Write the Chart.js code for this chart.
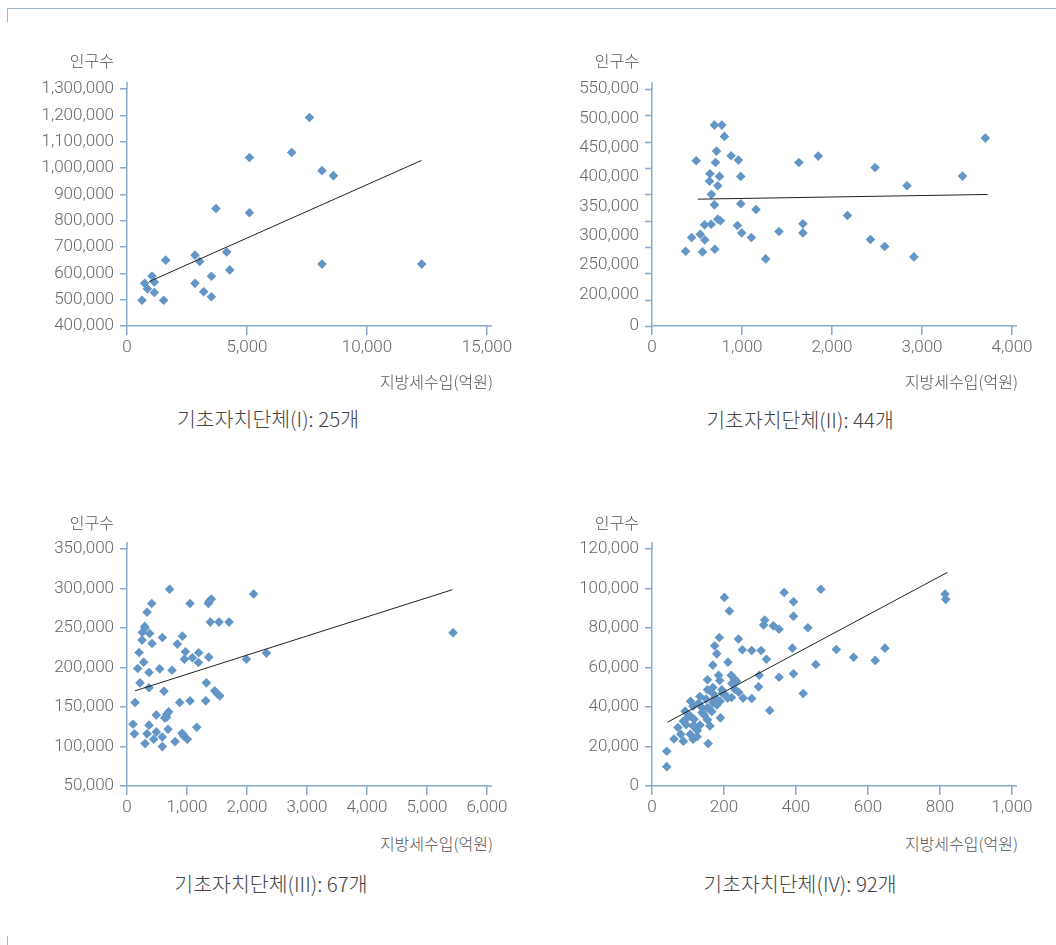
<!DOCTYPE html>
<html>
<head>
<meta charset="utf-8">
<script src="https://cdn.jsdelivr.net/npm/chart.js@4.4.1/dist/chart.umd.min.js"></script>
<style>
  body { margin: 0; background: #fff; width: 1056px; height: 945px; position: relative; overflow: hidden;
         font-family: 'Noto Sans CJK KR', 'Noto Sans', sans-serif; }
  .frame { position: absolute; background: #9db5d2; }
  canvas { position: absolute; }
  .t { position: absolute; color: #555; white-space: nowrap; font-weight: 300; }
  .ylab { font-size: 16px; line-height: 20px; height: 20px; text-align: right; width: 80px; }
  .xlab { font-size: 16px; line-height: 20px; height: 20px; text-align: right; width: 200px; }
  .cap { font-size: 20.5px; line-height: 26px; height: 26px; text-align: center; width: 320px; color: #444; }
</style>
</head>
<body>
<div class="frame" style="left:7px;top:8px;width:1049px;height:1px;"></div>
<div class="frame" style="left:7px;top:8px;width:1px;height:14px;"></div>
<div class="frame" style="left:7px;top:936px;width:1px;height:9px;"></div>

<canvas id="c1" width="520" height="330" style="left:0px;top:40px;"></canvas>
<canvas id="c2" width="520" height="330" style="left:525px;top:40px;"></canvas>
<canvas id="c3" width="520" height="330" style="left:0px;top:500px;"></canvas>
<canvas id="c4" width="520" height="330" style="left:525px;top:500px;"></canvas>

<div class="t ylab" style="left:34px;top:50px;">인구수</div>
<div class="t ylab" style="left:559px;top:50px;">인구수</div>
<div class="t ylab" style="left:34px;top:512px;">인구수</div>
<div class="t ylab" style="left:559px;top:512px;">인구수</div>

<div class="t xlab" style="left:293px;top:371px;">지방세수입(억원)</div>
<div class="t xlab" style="left:818px;top:371px;">지방세수입(억원)</div>
<div class="t xlab" style="left:293px;top:833px;">지방세수입(억원)</div>
<div class="t xlab" style="left:818px;top:833px;">지방세수입(억원)</div>

<div class="t cap" style="left:108px;top:405px;">기초자치단체(I): 25개</div>
<div class="t cap" style="left:640px;top:406px;">기초자치단체(II): 44개</div>
<div class="t cap" style="left:111px;top:870px;">기초자치단체(III): 67개</div>
<div class="t cap" style="left:640px;top:870px;">기초자치단체(IV): 92개</div>

<script>
// 기초자치단체(I): 지방세수입(억원) vs 인구수
var tax1 = [625, 737, 850, 1042, 1140, 1140, 1529, 1612, 2833, 3029, 2833, 3196, 3517, 3517, 3708, 4154, 4279, 5100, 5100, 6863, 7600, 8125, 8600, 8125, 12279];
var pop1 = [498000, 562000, 541000, 590000, 567000, 527000, 498000, 650000, 669000, 645000, 562000, 530000, 589000, 511000, 846000, 681000, 613000, 1040000, 830000, 1059000, 1192000, 990000, 971000, 635000, 635000];
var trendX1 = [917, 12265];
var trendY1 = [568500, 1028500];
var xVals1 = [0, 5000, 10000, 15000];
var xTicks1 = ['0', '5,000', '10,000', '15,000'];
var yVals1 = [400000, 500000, 600000, 700000, 800000, 900000, 1000000, 1100000, 1200000, 1300000];
var yTicks1 = ['400,000', '500,000', '600,000', '700,000', '800,000', '900,000', '1,000,000', '1,100,000', '1,200,000', '1,300,000'];

// 기초자치단체(II)
var tax2 = [694, 776, 805, 717, 491, 705, 879, 960, 643, 639, 750, 986, 731, 694, 986, 1156, 731, 584, 657, 440, 536, 587, 373, 561, 698, 949, 997, 1104, 1263, 1411, 1632, 1847, 1677, 1677, 2172, 2478, 2427, 2585, 2833, 2910, 3450, 3704, 660, 760];
var pop2 = [488500, 488500, 469200, 444100, 427600, 424800, 436200, 428800, 405500, 392900, 401000, 401000, 385000, 352500, 354300, 344600, 328100, 318400, 319500, 296800, 302500, 292800, 273500, 272300, 276900, 317300, 304700, 296800, 260400, 307100, 424800, 435600, 320200, 304700, 334300, 416200, 293400, 281400, 385000, 263800, 401500, 466300, 370400, 325500];
var trendX2 = [510, 3730];
var trendY2 = [362200, 370200];
var xVals2 = [0, 1000, 2000, 3000, 4000];
var xTicks2 = ['0', '1,000', '2,000', '3,000', '4,000'];
// broken axis: the bottom of the scale is labelled 0
var yVals2 = [146000, 200000, 250000, 300000, 350000, 400000, 450000, 500000, 550000];
var yTicks2 = ['0', '200,000', '250,000', '300,000', '350,000', '400,000', '450,000', '500,000', '550,000'];

// 기초자치단체(III)
var tax3 = [710, 2110, 412, 1051, 1356, 1406, 334, 295, 256, 378, 251, 417, 589, 923, 839, 1389, 1534, 1701, 201, 973, 1195, 278, 956, 1090, 1190, 1362, 1990, 2323, 5434, 178, 367, 545, 751, 217, 367, 617, 1323, 1462, 1501, 1545, 134, 878, 1051, 1312, 489, 695, 662, 628, 101, 367, 123, 334, 489, 684, 1162, 917, 945, 445, 589, 1006, 301, 589, 801, 300, 660, 940, 1370];
var pop3 = [299000, 293000, 281000, 281000, 281000, 286600, 270000, 252000, 244400, 243000, 234700, 230400, 238000, 239700, 229600, 257500, 257500, 257500, 219000, 219900, 218600, 206800, 210600, 212300, 206400, 213100, 210600, 218200, 244000, 198800, 193700, 198300, 196600, 180600, 174300, 170000, 180600, 170500, 167100, 164100, 155700, 155700, 157800, 157800, 140000, 143800, 140900, 136200, 128200, 127000, 116000, 116000, 118500, 121900, 124400, 116800, 113400, 109200, 112100, 109200, 103700, 99900, 106200, 250000, 137000, 115000, 284000];
var trendX3 = [134, 5423];
var trendY3 = [170500, 298500];
var xVals3 = [0, 1000, 2000, 3000, 4000, 5000, 6000];
var xTicks3 = ['0', '1,000', '2,000', '3,000', '4,000', '5,000', '6,000'];
var yVals3 = [50000, 100000, 150000, 200000, 250000, 300000, 350000];
var yTicks3 = ['50,000', '100,000', '150,000', '200,000', '250,000', '300,000', '350,000'];

// 기초자치단체(IV)
var tax4 = [41, 41, 61, 87, 80, 72, 87, 92, 107, 114, 106, 117, 114, 106, 114, 126, 133, 133, 139, 139, 154, 154, 154, 154, 161, 156, 166, 169, 169, 169, 169, 174, 180, 187, 185, 188, 189, 190, 194, 202, 201, 215, 211, 220, 221, 222, 229, 235, 241, 240, 251, 253, 277, 277, 296, 298, 303, 310, 313, 318, 327, 337, 353, 353, 367, 393, 393, 390, 393, 420, 433, 455, 469, 512, 560, 620, 647, 814, 816, 100, 120, 130, 145, 150, 160, 175, 180, 195, 210, 125, 95, 230];
var pop4 = [9800, 17600, 23800, 22700, 26200, 29600, 32800, 37900, 42900, 40400, 35500, 33800, 30400, 26200, 23700, 28100, 30800, 45300, 37200, 39600, 53800, 48700, 39600, 33500, 30400, 21500, 37700, 42300, 47000, 49900, 61200, 71000, 66900, 75200, 56100, 53400, 42900, 34500, 48700, 46500, 95500, 88600, 62700, 56100, 44800, 51900, 54100, 53100, 47500, 74400, 69000, 44500, 68600, 44300, 50200, 56100, 68600, 81500, 84000, 64200, 38200, 81100, 79400, 55100, 98000, 93300, 86000, 69800, 56800, 46800, 80100, 61500, 99600, 69100, 65200, 63600, 69800, 97200, 94500, 35000, 30000, 42000, 36000, 44000, 39000, 45000, 41000, 47000, 44500, 25000, 31000, 49000];
var trendX4 = [43, 821];
var trendY4 = [32300, 108200];
var xVals4 = [0, 200, 400, 600, 800, 1000];
var xTicks4 = ['0', '200', '400', '600', '800', '1,000'];
var yVals4 = [0, 20000, 40000, 60000, 80000, 100000, 120000];
var yTicks4 = ['0', '20,000', '40,000', '60,000', '80,000', '100,000', '120,000'];

var AXIS = '#86a9d0';
var MARK = '#6396c6';
var TICKFONT = { family: "Roboto, 'Noto Sans CJK KR', sans-serif", size: 17, weight: 300 };

// little overhang of the axis lines past the plot box
var axisExt = {
    id: 'axisExt',
    afterDraw: function(chart) {
        var ctx = chart.ctx, a = chart.chartArea;
        ctx.save();
        ctx.strokeStyle = AXIS;
        ctx.lineWidth = 1.5;
        ctx.beginPath();
        ctx.moveTo(a.left, a.top - 7);
        ctx.lineTo(a.left, a.top);
        ctx.moveTo(a.right, a.bottom);
        ctx.lineTo(a.right + 5, a.bottom);
        ctx.stroke();
        ctx.restore();
    }
};

// panel II: tick marks are evenly spaced and do not follow the labels
var evenMarks = {
    id: 'evenMarks',
    afterDraw: function(chart) {
        var ctx = chart.ctx, a = chart.chartArea, n = 9;
        ctx.save();
        ctx.strokeStyle = AXIS;
        ctx.lineWidth = 1.5;
        ctx.beginPath();
        for (var i = 0; i <= n; i++) {
            var y = Math.round(a.top + (a.bottom - a.top) * i / n) + 0.5;
            ctx.moveTo(a.left - 7, y);
            ctx.lineTo(a.left, y);
        }
        ctx.stroke();
        ctx.restore();
    }
};

function pts(xs, ys) {
    return xs.map(function(x, i) { return { x: x, y: ys[i] }; });
}

function makeChart(id, xs, ys, tx, ty, xVals, xLabels, yVals, yLabels, evenTicks) {
    var plugins = [axisExt];
    if (evenTicks) plugins.push(evenMarks);
    new Chart(document.getElementById(id), {
        type: 'scatter',
        data: {
            datasets: [{
                data: pts(xs, ys),
                pointStyle: 'rectRot',
                pointRadius: 4.8,
                pointHoverRadius: 4.8,
                backgroundColor: MARK,
                borderColor: MARK,
                borderWidth: 0,
                order: 2
            }, {
                data: pts(tx, ty),
                showLine: true,
                borderColor: '#222',
                borderWidth: 1,
                pointRadius: 0,
                fill: false,
                order: 1
            }]
        },
        options: {
            responsive: false,
            animation: false,
            devicePixelRatio: 1,
            layout: { padding: { top: 49, right: 33, bottom: 0, left: 0 } },
            plugins: { legend: { display: false }, tooltip: { enabled: false } },
            scales: {
                x: {
                    type: 'linear',
                    min: xVals[0], max: xVals[xVals.length - 1],
                    afterFit: function(s) { s.height = 44; },
                    afterBuildTicks: function(s) {
                        s.ticks = xVals.map(function(v) { return { value: v }; });
                    },
                    ticks: {
                        padding: 3,
                        color: '#666',
                        font: TICKFONT,
                        maxRotation: 0,
                        autoSkip: false,
                        callback: function(v, i) { return xLabels[i]; }
                    },
                    grid: { drawOnChartArea: false, drawTicks: true, tickLength: 9, color: AXIS, lineWidth: 1.5 },
                    border: { display: true, color: AXIS, width: 1.5 }
                },
                y: {
                    type: 'linear',
                    min: yVals[0], max: yVals[yVals.length - 1],
                    afterFit: function(s) { s.width = 127; },
                    afterBuildTicks: function(s) {
                        s.ticks = yVals.map(function(v) { return { value: v }; });
                    },
                    ticks: {
                        padding: 6,
                        color: '#666',
                        font: TICKFONT,
                        autoSkip: false,
                        callback: function(v, i) { return yLabels[i]; }
                    },
                    grid: { drawOnChartArea: false, drawTicks: true, tickLength: 7,
                            color: evenTicks ? 'rgba(0,0,0,0)' : AXIS, lineWidth: 1.5 },
                    border: { display: true, color: AXIS, width: 1.5 }
                }
            }
        },
        plugins: plugins
    });
}

makeChart('c1', tax1, pop1, trendX1, trendY1, xVals1, xTicks1, yVals1, yTicks1, false);
makeChart('c2', tax2, pop2, trendX2, trendY2, xVals2, xTicks2, yVals2, yTicks2, true);
makeChart('c3', tax3, pop3, trendX3, trendY3, xVals3, xTicks3, yVals3, yTicks3, false);
makeChart('c4', tax4, pop4, trendX4, trendY4, xVals4, xTicks4, yVals4, yTicks4, false);
</script>
</body>
</html>
